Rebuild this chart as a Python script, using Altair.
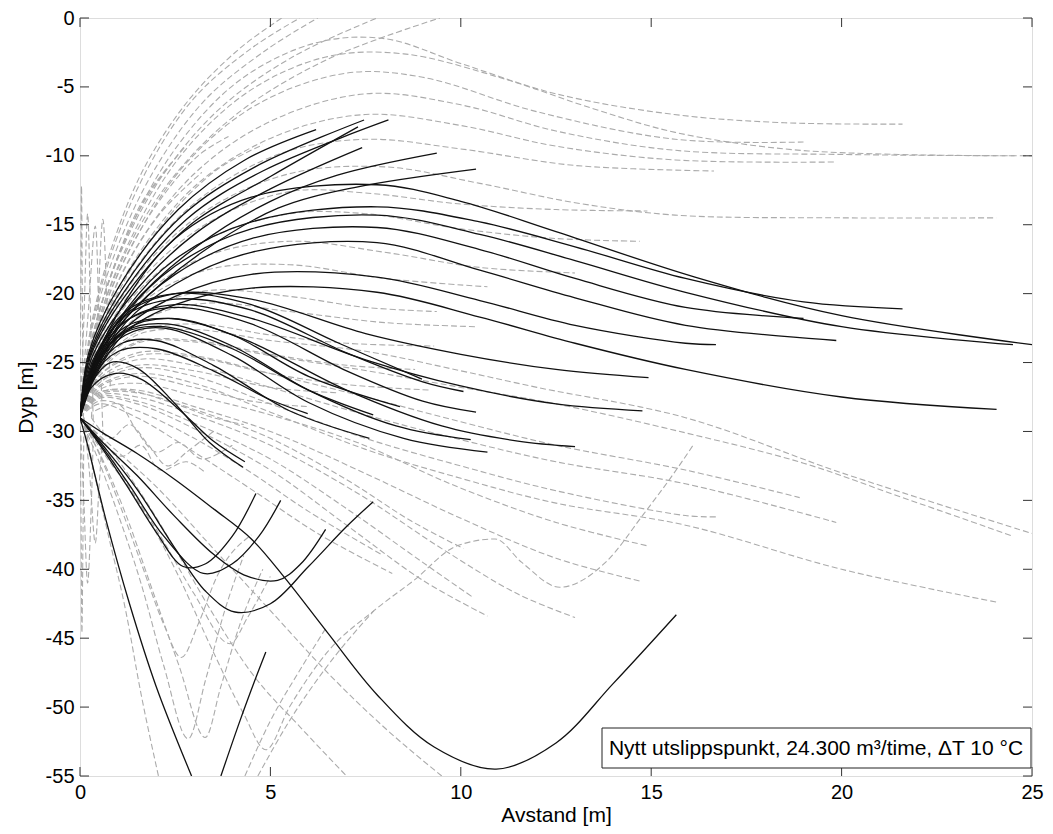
import altair as alt
import pandas as pd

X_TICKS = [0, 5, 10, 15, 20, 25]
Y_TICKS = [0, -5, -10, -15, -20, -25, -30, -35, -40, -45, -50, -55]
NOTE = "Nytt utslippspunkt, 24.300 m³/time, ΔT 10 °C"

# ---- black (solid) trajectories: (avstand, dyp) ----
BLACK_RISING = [
    [(0, -29), (0.23, -24.3), (1.02, -19.5), (2.58, -13.9), (4.33, -10.3), (6.2, -8.1)],
    [(0, -29), (0.25, -24.4), (1.1, -19.7), (2.7, -14.3), (4.6, -10.8), (7.46, -7.4)],
    [(0, -29), (0.26, -24.5), (1.15, -19.9), (2.8, -14.6), (4.8, -11.1), (8.1, -7.4)],
    [(0, -29), (0.27, -24.6), (1.2, -20.1), (2.9, -15.0), (5.0, -11.5), (7.3, -7.9)],
    [(0, -29), (0.29, -24.8), (1.25, -20.5), (3.0, -15.7), (5.0, -12.4), (7.41, -9.4)],
    [(0, -29), (0.31, -25.0), (1.3, -21.0), (3.1, -16.5), (5.0, -13.3), (6.76, -11.4), (9.37, -9.8)],
    [(0, -29), (0.33, -25.1), (1.4, -21.2), (3.2, -17.0), (5.2, -13.8), (7.2, -12.3), (10.4, -10.96)],
]
BLACK_LONG = [
    [(0, -29), (0.35, -25.2), (1.2, -20.5), (2.5, -16.0), (4.5, -13.0), (7.8, -12.1), (10, -13.3), (12.5, -15.5), (16.15, -18.8), (20, -21.6), (25, -23.7)],
    [(0, -29), (0.37, -25.4), (1.2, -21.2), (2.5, -17.5), (4.5, -14.8), (7.8, -13.7), (10.5, -14.8), (13, -16.6), (15.9, -18.9), (19, -20.6), (21.6, -21.1)],
    [(0, -29), (0.38, -25.5), (1.2, -21.5), (2.5, -18.0), (4.5, -15.3), (7.8, -14.3), (10.5, -15.7), (13, -17.6), (15.9, -19.9), (20, -22.4), (24.5, -23.7)],
    [(0, -29), (0.39, -25.6), (1.2, -21.8), (2.5, -18.6), (4.5, -16.0), (7.8, -15.2), (10.5, -16.8), (13, -18.9), (15.9, -21.0), (19, -21.8)],
    [(0, -29), (0.4, -25.7), (1.2, -22.1), (2.5, -19.3), (4.5, -17.0), (7.8, -16.3), (10.5, -18.3), (13, -20.3), (15.9, -22.3), (19.86, -23.4)],
    [(0, -29), (0.41, -25.8), (1.2, -22.5), (2.5, -20.2), (4.5, -18.6), (7.8, -18.8), (10.5, -20.5), (13, -22.3), (15.9, -23.6), (16.7, -23.7)],
    [(0, -29), (0.42, -25.9), (1.2, -22.8), (2.5, -20.8), (4.5, -19.6), (7.8, -19.9), (10.5, -21.7), (13, -23.6), (15.9, -25.5), (20, -27.5), (24.07, -28.4)],
]
BLACK_SHORT = [
    [(0, -29), (0.4, -24.8), (1.2, -21.5), (2.5, -20.0), (4.5, -20.4), (7.5, -22.9), (10, -24.4), (12.5, -25.5), (14.93, -26.1)],
    [(0, -29), (0.4, -25.0), (1.2, -22.0), (2.5, -20.8), (4.5, -21.8), (7.5, -24.8), (10, -26.7), (12.5, -28.0), (14.77, -28.5)],
    [(0, -29), (0.4, -25.2), (1.2, -22.6), (2.4, -21.8), (4.3, -23.3), (7, -27.0), (9.5, -29.6), (11.5, -30.7), (13.0, -31.1)],
    [(0, -29), (0.4, -25.4), (1.2, -23.0), (2.2, -22.5), (4, -24.5), (6, -27.9), (8.5, -30.5), (10.7, -31.5)],
    [(0, -29), (0.4, -25.3), (1.2, -22.7), (2.3, -22.2), (4, -23.8), (6, -27.0), (8.3, -29.6), (10.26, -30.6)],
    [(0, -29), (0.4, -25.0), (1.2, -22.0), (2.5, -21.0), (4.5, -22.2), (7, -25.6), (9, -27.8), (10.4, -28.6)],
    [(0, -29), (0.4, -24.8), (1.2, -21.6), (2.5, -20.4), (4.5, -21.2), (7, -24.3), (9, -26.4), (10.07, -27.1)],
    [(0, -29), (0.4, -24.6), (1.2, -21.3), (2.5, -20.0), (4.5, -20.8), (6.8, -23.6), (8.98, -26.2)],
    [(0, -29), (0.4, -25.1), (1.2, -22.4), (2.3, -21.8), (4, -23.0), (6, -26.0), (8.4, -28.2)],
    [(0, -29), (0.4, -25.6), (1.1, -23.6), (2, -23.4), (3.5, -25.2), (5.5, -28.5), (7.6, -30.5)],
    [(0, -29), (0.4, -25.3), (1.2, -22.8), (2.2, -22.4), (4, -24.0), (6, -27.0), (7.7, -28.8)],
    [(0, -29), (0.35, -26.0), (1, -24.2), (2, -24.0), (3.5, -25.6), (5, -27.7), (5.98, -28.7)],
    [(0, -29), (0.3, -26.5), (0.8, -25.0), (1.5, -25.4), (2.5, -28.0), (3.4, -30.8), (4.28, -32.6)],
    [(0, -29), (0.3, -26.8), (0.9, -25.8), (1.6, -26.2), (2.6, -28.4), (3.5, -30.7), (4.33, -32.2)],
]
BLACK_DOWN = [
    [(0, -29), (0.2, -31.0), (0.68, -36.4), (1.3, -42.5), (2.0, -48.5), (2.93, -55)],
    [(0, -29), (0.5, -30.9), (1.2, -33.8), (2.0, -37.3), (2.71, -39.8), (3.3, -39.6), (4.0, -37.6), (4.62, -34.5)],
    [(0, -29), (0.5, -30.8), (1.3, -33.9), (2.2, -37.6), (3.24, -40.3), (4.0, -39.6), (4.7, -37.6), (5.27, -35.0)],
    [(0, -29), (0.6, -30.8), (1.5, -33.2), (2.5, -36.2), (3.5, -38.9), (4.3, -40.4), (5.19, -40.8), (5.8, -39.6), (6.45, -37.1)],
    [(0, -29), (0.6, -31.0), (1.5, -34.2), (2.5, -38.5), (3.3, -41.6), (4.07, -43.1), (5.0, -42.5), (6.0, -39.8), (7.0, -36.9), (7.7, -35.1)],
    [(0, -29), (0.6, -30.1), (1.5, -31.6), (2.5, -33.5), (3.5, -35.6), (4.5, -37.8), (5.4, -40.7), (6.5, -44.6), (7.8, -49.1), (9.3, -52.9), (10.93, -54.5), (12.5, -52.6), (14, -48.3), (15.66, -43.3)],
    [(3.7, -55), (4.2, -51.0), (4.6, -48.0), (4.88, -46.0)],
]

# ---- grey (dashed) trajectories ----
GREY_SPIKES = [
    [(0, -29), (0.02, -20), (0.04, -12.2), (0.06, -20), (0.09, -29)],
    [(0, -29), (0.1, -22), (0.2, -14.2), (0.28, -22), (0.35, -29.5)],
    [(0, -29), (0.2, -22), (0.4, -15.1), (0.5, -22), (0.6, -30)],
    [(0.3, -29), (0.45, -22), (0.6, -14.6), (0.7, -20), (0.8, -27)],
    [(0, -29), (0.03, -37), (0.05, -44.6), (0.08, -37), (0.1, -30)],
    [(0, -29), (0.1, -35), (0.2, -41), (0.3, -35), (0.35, -30)],
    [(0.1, -29), (0.25, -33), (0.4, -38.1), (0.5, -34), (0.6, -30)],
]
GREY_TOP = [
    [(0, -29), (0.28, -22.5), (0.85, -16.5), (1.7, -10.8), (2.9, -5.8), (4.2, -2.2), (5.3, 0)],
    [(0, -29), (0.3, -22.5), (0.9, -16.5), (1.8, -10.8), (3.0, -5.8), (4.5, -2.2), (5.77, 0)],
    [(0, -29), (0.32, -22.5), (1.0, -16.5), (2.0, -10.8), (3.3, -5.9), (4.9, -2.3), (6.24, 0)],
    [(0, -29), (0.35, -22.8), (1.1, -16.8), (2.2, -11.3), (3.7, -6.5), (5.6, -2.8), (7.8, 0)],
    [(0, -29), (0.38, -23.0), (1.2, -17.0), (2.4, -11.7), (4.1, -7.0), (6.5, -3.0), (9.45, 0)],
    [(0, -29), (0.3, -23.5), (0.9, -18.0), (1.6, -13.5), (2.4, -10.5)],
    [(0, -29), (0.32, -23.3), (0.95, -17.6), (1.8, -12.8), (2.8, -9.2)],
    [(0, -29), (0.34, -23.6), (1.05, -18.2), (2.0, -13.6), (3.1, -10.0), (3.9, -8.6)],
    [(0, -29), (0.36, -23.8), (1.1, -18.6), (2.1, -14.2), (3.2, -11.2)],
    [(0, -29), (0.4, -23.9), (1.2, -18.9), (2.3, -14.5), (3.6, -11.0), (4.8, -9.2)],
]
GREY_UPPER = [
    [(0, -29), (0.4, -22.5), (1.2, -16.0), (2.5, -9.5), (4.2, -4.5), (6.2, -1.8), (8, -1.5), (10, -3.3), (12.5, -5.5), (15.6, -7.0), (18.5, -7.6), (21.6, -7.7)],
    [(0, -29), (0.42, -22.6), (1.3, -16.2), (2.7, -9.8), (4.5, -5.2), (6.5, -2.8), (8.5, -2.6), (11, -4.3), (13.5, -6.6), (15.63, -8.3), (18.5, -9.5), (21.5, -9.9), (25, -10)],
    [(0, -29), (0.43, -22.8), (1.35, -16.6), (2.8, -10.5), (4.7, -6.2), (7, -4.0), (9, -4.3), (12, -6.8), (15.63, -8.8), (19, -9.0)],
    [(0, -29), (0.45, -23.0), (1.4, -17.0), (3, -11.3), (5, -7.5), (7.5, -5.5), (10, -6.3), (12.5, -8.2), (15.63, -9.6), (20, -9.9), (24.6, -10)],
    [(0, -29), (0.46, -23.2), (1.45, -17.5), (3.1, -12.0), (5.2, -8.5), (7.5, -7.0), (10, -7.8), (12.5, -9.3), (15.63, -10.3), (19.8, -10.45)],
    [(0, -29), (0.47, -23.4), (1.5, -18.0), (3.2, -13.0), (5.3, -9.8), (7.5, -8.8), (10, -9.5), (13, -10.7), (16.65, -11.1)],
    [(0, -29), (0.48, -23.6), (1.55, -18.5), (3.3, -14.0), (5.5, -11.3), (8, -10.8), (10.5, -12.0), (13, -13.4), (15.63, -14.3), (20, -14.5), (24.06, -14.5)],
    [(0, -29), (0.5, -23.8), (1.6, -19.0), (3.4, -14.8), (5.5, -12.6), (7.5, -12.7), (10, -13.5), (12.5, -13.9), (14.9, -14.0)],
    [(0, -29), (0.5, -24.0), (1.6, -19.6), (3.4, -16.0), (5.5, -14.2), (7.5, -14.2), (10, -15.3), (12.5, -16.0), (14.7, -16.2)],
    [(0, -29), (0.5, -24.3), (1.6, -20.3), (3.3, -17.3), (5.5, -16.2), (8, -17.0), (10.5, -18.1), (13, -18.5)],
    [(0, -29), (0.5, -24.5), (1.6, -20.7), (3.3, -18.3), (5.5, -17.9), (8, -18.9), (10.7, -19.5)],
    [(0, -29), (0.5, -24.8), (1.6, -21.5), (3.3, -19.8), (5.5, -20.2), (7.5, -21.0), (9.37, -21.3)],
    [(0, -29), (0.5, -25.0), (1.6, -22.0), (3.3, -20.7), (5.5, -21.3), (8, -22.1), (10.4, -22.4)],
]
GREY_MIDDLE = [
    [(0, -29), (0.5, -25.3), (1.5, -22.8), (3, -22.2), (5, -23.0), (7, -23.6), (9.3, -23.8)],
    [(0, -29), (0.5, -25.6), (1.5, -23.5), (3, -23.4), (5, -24.4), (7, -25.2), (8.8, -25.5)],
    [(0, -29), (0.5, -26.0), (1.5, -24.5), (3, -24.6), (5, -25.8), (7, -26.6), (9.2, -27.0)],
    [(0, -29), (0.5, -26.3), (1.5, -25.2), (3, -25.6), (5, -26.8), (6.8, -27.2)],
    [(0, -29), (0.5, -26.8), (1.5, -26.0), (3, -26.8), (4.5, -27.8), (6, -28.2)],
    [(0, -29), (0.4, -27.3), (1.2, -27.0), (2.5, -28.0), (3.5, -29.0), (4.3, -29.5)],
    [(0.3, -29), (0.8, -30.5), (1.3, -29.5), (1.8, -31.0), (2.3, -32.5), (2.8, -31.5), (3.5, -30.0)],
    [(0.4, -28.5), (1.0, -28.0), (1.5, -30.0), (2.0, -31.5), (2.6, -30.8), (3.2, -32.0), (4.0, -31.0)],
    [(0.5, -30.5), (1.1, -31.8), (1.6, -31.0), (2.1, -32.8), (2.8, -32.2), (3.3, -33.0)],
]
GREY_LOWER = [
    [(0, -29), (0.5, -25.5), (1.5, -23.0), (3, -22.6), (5, -23.4), (7.54, -24.2), (10, -25.6), (12, -26.8), (15.9, -29.0), (20, -33.0), (25, -37.4)],
    [(0, -29), (0.5, -25.8), (1.5, -23.6), (3, -23.5), (5, -24.5), (7.54, -25.6), (10, -26.8), (12.5, -28.0), (15.9, -30.1), (19, -32.3), (21.6, -34.8), (24.5, -37.6)],
    [(0, -29), (0.5, -26.0), (1.5, -24.3), (3, -24.5), (5, -25.8), (7.5, -27.5), (10, -29.3), (12.5, -31.0), (15.9, -32.8), (18.9, -34.8)],
    [(0, -29), (0.5, -26.2), (1.5, -24.8), (3, -25.2), (5, -26.8), (7.5, -28.8), (10, -30.6), (12.5, -32.2), (15.9, -33.8), (19.86, -36.6)],
    [(0, -29), (0.5, -26.5), (1.5, -25.4), (3, -26.0), (5, -28.0), (7.5, -30.5), (10, -32.5), (12.5, -34.3), (15.9, -36.1), (16.7, -36.2)],
    [(0, -29), (0.5, -26.7), (1.5, -25.8), (3, -26.5), (5, -28.6), (7.5, -31.3), (10, -33.4), (12.5, -35.2), (15.9, -36.8), (20, -40.0), (24.1, -42.4)],
    [(0, -29), (0.5, -27.0), (1.5, -26.5), (3, -27.4), (5, -28.8), (7.28, -30.8), (9.9, -34.0), (12.5, -36.6), (14.9, -38.3)],
    [(0, -29), (0.5, -27.2), (1.5, -27.0), (3, -28.2), (5, -30.0), (7.3, -32.8), (10, -36.3), (12.5, -39.2), (14.77, -40.9)],
    [(0, -29), (0.5, -27.4), (1.5, -27.5), (3, -28.8), (5, -31.0), (7.3, -34.5), (9.5, -38.5), (11.5, -41.8), (13.0, -43.5)],
    [(0, -29), (0.5, -27.6), (1.5, -28.0), (3, -29.8), (5, -32.8), (7, -36.8), (9, -40.8), (10.7, -43.4)],
    [(0, -29), (0.5, -27.3), (1.5, -27.2), (3, -28.4), (5, -30.5), (7, -33.5), (8.7, -36.5), (10.07, -38.5)],
    [(0, -29), (0.5, -27.5), (1.5, -27.8), (3, -29.4), (5, -32.0), (7, -35.6), (9, -39.5), (10.3, -42.0)],
    [(0, -29), (0.5, -27.8), (1.5, -28.5), (3, -30.5), (4.5, -33.0), (6, -35.8), (7.9, -38.9)],
    [(0, -29), (0.5, -28.0), (1.5, -29.0), (3, -31.5), (4.5, -34.2), (6.3, -37.5), (8.2, -40.3)],
]
GREY_BOTTOM = [
    [(0.1, -29), (0.3, -32), (0.7, -37), (1.2, -43), (1.6, -49), (2.06, -55)],
    [(0, -29), (0.4, -31), (1.0, -35), (1.6, -39.5), (2.2, -44), (2.66, -46.4), (3.1, -44), (3.6, -40.5), (4.5, -37.5)],
    [(0, -29), (0.4, -31.5), (1.0, -36), (1.6, -41), (2.2, -47), (2.84, -52.3), (3.3, -48), (3.8, -43), (4.3, -39)],
    [(0, -29), (0.5, -31.5), (1.2, -36), (1.9, -41.5), (2.6, -47), (3.29, -52.2), (3.7, -48.5), (4.2, -44), (4.8, -40)],
    [(0, -29), (0.6, -31), (1.4, -34.5), (2.2, -38), (3.0, -41.8), (3.94, -45.4), (4.4, -43.5), (5.0, -40.5)],
    [(0, -29), (0.6, -31.5), (1.5, -35), (2.5, -40), (3.5, -46), (4.3, -50.5), (4.88, -53.1), (5.5, -50), (6.5, -46), (7.72, -43), (8.77, -40.8), (9.9, -38.3), (10.9, -37.8), (11.6, -39.5), (12.6, -41.3), (13.8, -39.5), (14.8, -36.0), (15.63, -32.9), (16.1, -31.0)],
    [(0, -29), (0.7, -31), (1.6, -34.5), (2.6, -39), (3.44, -43), (4.5, -47.5), (5.8, -51.5), (7.0, -55)],
    [(0, -29), (0.8, -31), (2.0, -34), (3.5, -38.5), (5.0, -43), (6.5, -47.5), (8.0, -51.5), (9.5, -55)],
    [(4.33, -55), (5.0, -51), (5.8, -47.2), (6.45, -44.3)],
    [(4.67, -55), (5.5, -51), (6.5, -47), (7.72, -43)],
]


def frame(groups, kind):
    rows = []
    for gname, lines in groups:
        for i, line in enumerate(lines):
            for j, (x, y) in enumerate(line):
                rows.append({"line": f"{kind}-{gname}-{i}", "order": j, "x": x, "y": y})
    return pd.DataFrame(rows)


black_df = frame([("rise", BLACK_RISING), ("long", BLACK_LONG), ("short", BLACK_SHORT), ("down", BLACK_DOWN)], "b")
grey_df = frame([("spk", GREY_SPIKES), ("top", GREY_TOP), ("up", GREY_UPPER), ("mid", GREY_MIDDLE),
                 ("low", GREY_LOWER)], "g")
grey_v_df = frame([("bot", GREY_BOTTOM)], "g")

W, H = 952, 758
FONT = "Liberation Sans"
xscale = alt.Scale(domain=[0, 25], nice=False, zero=False)
yscale = alt.Scale(domain=[-55, 0], nice=False, zero=False)
AX = alt.Axis(values=X_TICKS, ticks=False, grid=False, domain=False, labelFontSize=20, labelFont=FONT,
              labelColor="black", labelPadding=6, labelFlush=False, title="Avstand [m]", titleFont=FONT,
              titleFontSize=21, titleFontWeight="normal", titleColor="black", titlePadding=2)
AY = alt.Axis(values=Y_TICKS, ticks=False, grid=False, domain=False, labelFontSize=20, labelFont=FONT,
              labelColor="black", labelPadding=6, labelFlush=False,
              labelExpr="datum.value == 0 ? '0' : '-' + abs(datum.value)",
              title="Dyp [m]", titleFont=FONT, titleFontSize=21, titleFontWeight="normal",
              titleColor="black", titlePadding=9)

X_ENC = alt.X("x:Q", scale=xscale, axis=AX)
Y_ENC = alt.Y("y:Q", scale=yscale, axis=AY)

GREY_COL = "#ababab"
grey = alt.Chart(grey_df).mark_line(color=GREY_COL, strokeWidth=1.1, strokeDash=[6, 3],
                                    interpolate="catmull-rom", clip=True).encode(
    x=X_ENC, y=Y_ENC, detail="line:N", order="order:Q")
grey_v = alt.Chart(grey_v_df).mark_line(color=GREY_COL, strokeWidth=1.1, strokeDash=[6, 3],
                                        interpolate="monotone", clip=True).encode(
    x=X_ENC, y=Y_ENC, detail="line:N", order="order:Q")
black = alt.Chart(black_df).mark_line(color="#111111", strokeWidth=1.3,
                                      interpolate="catmull-rom", clip=True).encode(
    x=X_ENC, y=Y_ENC, detail="line:N", order="order:Q")

xt = pd.DataFrame({"x": X_TICKS})
yt = pd.DataFrame({"y": Y_TICKS})
tick_col = "#333333"
xt_bot = alt.Chart(xt).mark_rule(color=tick_col).encode(x=X_ENC, y=alt.value(H), y2=alt.value(H - 9))
xt_top = alt.Chart(xt).mark_rule(color=tick_col).encode(x=X_ENC, y=alt.value(0), y2=alt.value(9))
yt_left = alt.Chart(yt).mark_rule(color=tick_col).encode(y=Y_ENC, x=alt.value(0), x2=alt.value(9))
yt_right = alt.Chart(yt).mark_rule(color=tick_col).encode(y=Y_ENC, x=alt.value(W), x2=alt.value(W - 9))

note_df = pd.DataFrame({"t": [NOTE]})
note_box = alt.Chart(note_df).mark_rect(fill="white", stroke="#222222", strokeWidth=1).encode(
    x=alt.value(522), x2=alt.value(951), y=alt.value(710), y2=alt.value(750))
note_txt = alt.Chart(note_df).mark_text(font=FONT, fontSize=21, color="black", align="center",
                                        baseline="middle").encode(
    x=alt.value(736), y=alt.value(731), text="t:N")

chart = alt.layer(grey, grey_v, black, xt_bot, xt_top, yt_left, yt_right, note_box, note_txt).properties(
    width=W, height=H,
    autosize=alt.AutoSizeParams(type="none"),
    padding={"left": 72, "top": 10, "right": 13, "bottom": 50},
).configure_view(stroke="#333333", strokeWidth=1).configure(background="white")

chart.save("out.html", embed_options={"renderer": "svg", "actions": False})
